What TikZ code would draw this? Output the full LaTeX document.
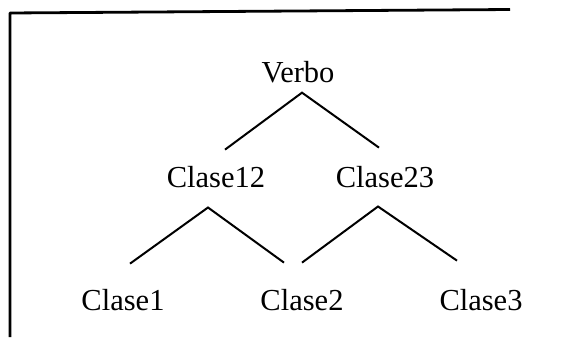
\documentclass[tikz,border=0pt]{standalone}
\usepackage{fontspec}
\setmainfont{Liberation Serif}
\usetikzlibrary{calc}
\begin{document}
\begin{tikzpicture}[x=1pt,y=-1pt,
  lbl/.style={inner sep=0pt, anchor=base, font=\fontsize{30.5}{36}\selectfont},
  edge/.style={line width=2pt},
  frame/.style={line width=2.8pt, line join=round}]
\useasboundingbox (0,0) rectangle (583,337);
\draw[frame] (10,337) -- (10,13) -- (510,9.5);
\node[lbl] (verbo) at (298,82) {Verbo};
\node[lbl] (c12) at (216,187) {Clase12};
\node[lbl] (c23) at (385,187) {Clase23};
\node[lbl] (c1) at (123,310) {Clase1};
\node[lbl] (c2) at (302,310) {Clase2};
\node[lbl] (c3) at (481,310) {Clase3};
\coordinate (va) at ($(verbo.south)+(4,10)$);
\coordinate (c12t) at ($(c12.north)+(9,-16)$);
\coordinate (c23t) at ($(c23.north)+(-6,-18)$);
\coordinate (c12a) at ($(c12.south)+(-8,20)$);
\coordinate (c23a) at ($(c23.south)+(-7,19)$);
\coordinate (c1t) at ($(c1.north)+(7,-25)$);
\coordinate (c2l) at ($(c2.north)+(-18,-26)$);
\coordinate (c2r) at ($(c2.north)+(0,-26)$);
\coordinate (c3t) at ($(c3.north)+(-24,-28)$);
\draw[edge] (c12t) -- (va) -- (c23t);
\draw[edge] (c1t) -- (c12a) -- (c2l);
\draw[edge] (c2r) -- (c23a) -- (c3t);
\end{tikzpicture}
\end{document}
